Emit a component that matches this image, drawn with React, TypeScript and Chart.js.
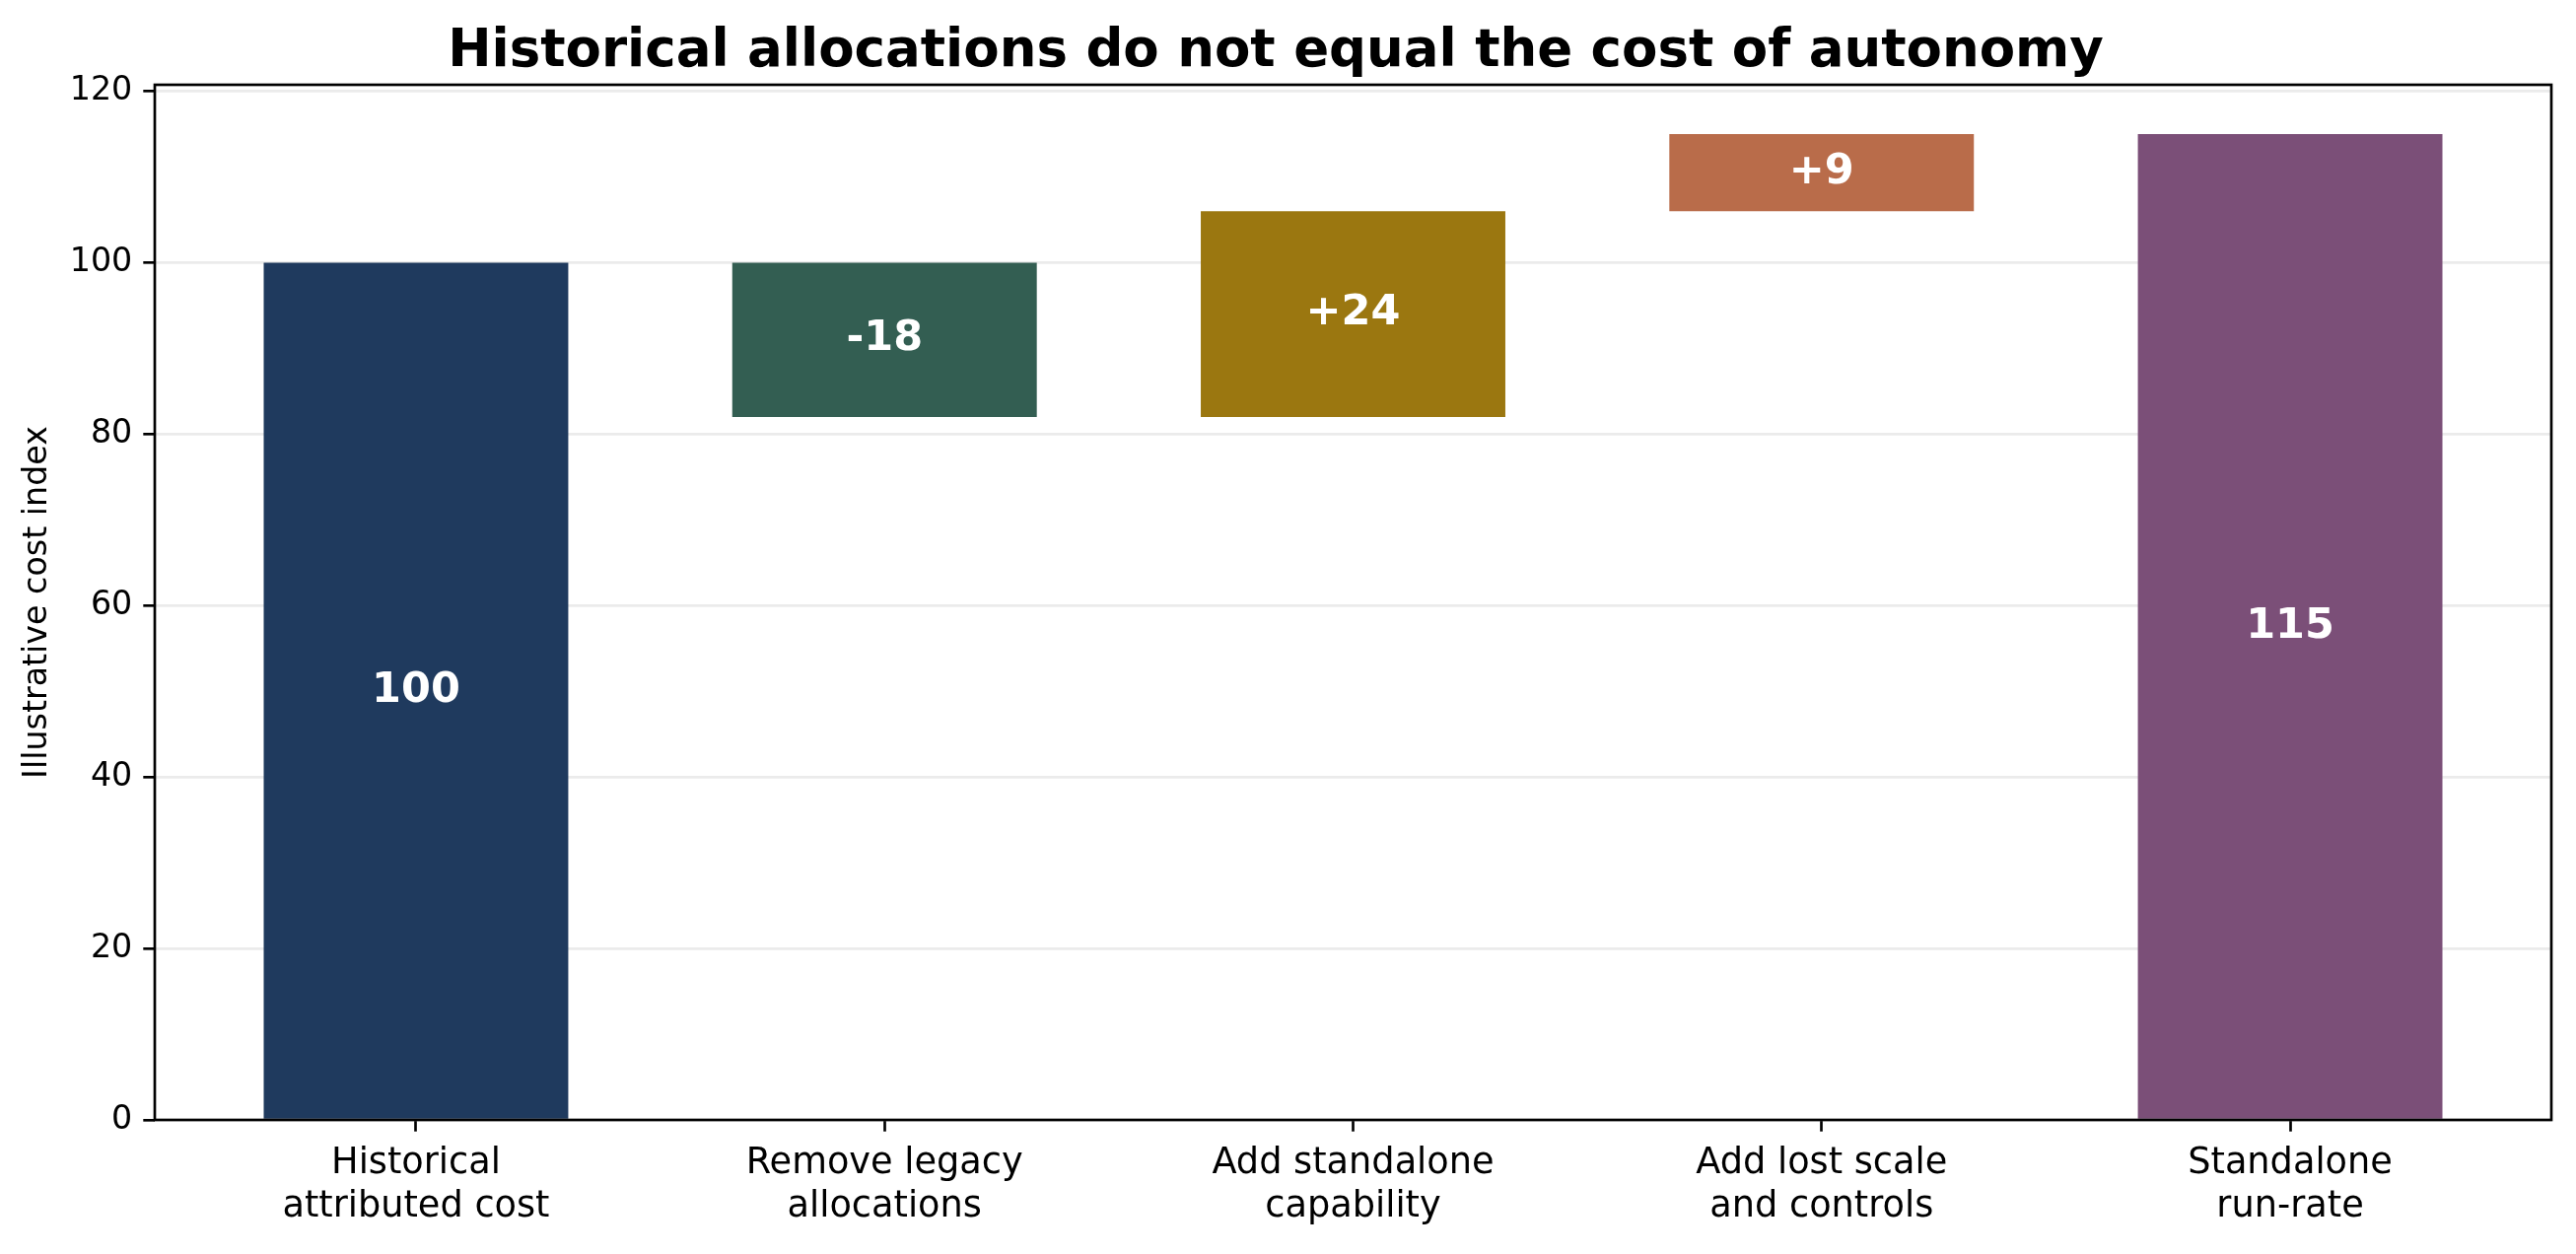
import React, { useEffect, useRef } from 'react';
import { Chart, registerables, ChartConfiguration, Plugin } from 'chart.js';
Chart.register(...registerables);

// waterfall steps
const categories = [
  ['Historical', 'attributed cost'],
  ['Remove legacy', 'allocations'],
  ['Add standalone', 'capability'],
  ['Add lost scale', 'and controls'],
  ['Standalone', 'run-rate'],
];
const barBottoms = [0, 82, 82, 106, 0];
const barTops = [100, 100, 106, 115, 115];
const barLabels = ['100', '-18', '+24', '+9', '115'];
const barColors = ['#1f3a5e', '#335e52', '#9b7710', '#b96c4a', '#7b4f78'];
const yTicks = [0, 20, 40, 60, 80, 100, 120];

const FONT = "'DejaVu Sans', sans-serif";

const framePlugin: Plugin = {
  id: 'frameAndLabels',
  afterDraw(chart) {
    const { ctx, chartArea: a } = chart;
    const meta = chart.getDatasetMeta(0);
    const yScale = chart.scales.y;
    ctx.save();
    // box round the plot, like matplotlib spines
    ctx.strokeStyle = '#000';
    ctx.lineWidth = 2.67;
    ctx.strokeRect(a.left, a.top, a.right - a.left, a.bottom - a.top);
    // value labels in the middle of each bar
    ctx.fillStyle = '#fff';
    ctx.font = `bold 43px ${FONT}`;
    ctx.textAlign = 'center';
    ctx.textBaseline = 'middle';
    meta.data.forEach((bar, i) => {
      const mid = (barBottoms[i] + barTops[i]) / 2;
      ctx.fillText(barLabels[i], bar.x, yScale.getPixelForValue(mid) - 0.5);
    });
    ctx.restore();
  },
};

const App: React.FC = () => {
  const canvasRef = useRef<HTMLCanvasElement>(null);
  const chartRef = useRef<Chart | null>(null);

  useEffect(() => {
    if (!canvasRef.current) return;
    const ctx = canvasRef.current.getContext('2d');
    if (!ctx) return;

    const config: ChartConfiguration = {
      type: 'bar',
      data: {
        datasets: [{
          data: categories.map((_, i) => ({ x: i, y: [barBottoms[i], barTops[i]] })) as any,
          backgroundColor: barColors,
          borderWidth: 0,
          barPercentage: 1,
          categoryPercentage: 0.65,
        }],
      },
      options: {
        responsive: true,
        maintainAspectRatio: false,
        animation: false,
        layout: { padding: { left: 0, right: 25, top: 0, bottom: 0 } },
        plugins: {
          legend: { display: false },
          tooltip: { enabled: false },
          title: {
            display: true,
            text: 'Historical allocations do not equal the cost of autonomy',
            color: '#000',
            font: { family: FONT, size: 53, weight: 'bold', lineHeight: 1 },
            padding: { top: 27, bottom: 6 },
          },
        },
        scales: {
          x: {
            type: 'linear',
            min: -0.5575,
            max: 4.5575,
            offset: false,
            afterBuildTicks: (s: any) => { s.ticks = categories.map((_, i) => ({ value: i })); },
            afterFit: (s: any) => { s.height = 136; },
            grid: {
              display: true,
              offset: false,
              drawOnChartArea: false,
              drawTicks: true,
              tickLength: 11.7,
              tickWidth: 2.67,
              tickColor: '#000',
            },
            border: { display: false },
            ticks: {
              color: '#000',
              padding: 11,
              maxRotation: 0,
              autoSkip: false,
              font: { family: FONT, size: 36.7, lineHeight: 1.2 },
              callback: (v: any) => categories[Number(v)] ?? '',
            },
          },
          y: {
            min: 0,
            max: 120.75,
            z: 1,
            afterBuildTicks: (s: any) => { s.ticks = yTicks.map(v => ({ value: v })); },
            afterFit: (s: any) => { s.width = 157; },
            grid: {
              color: 'rgba(176,176,176,0.25)',
              lineWidth: 2.67,
              tickLength: 11.7,
              tickWidth: 2.67,
              tickColor: '#000',
            },
            border: { display: false },
            ticks: {
              color: '#000',
              padding: 11,
              autoSkip: false,
              font: { family: FONT, size: 33.3 },
            },
            title: {
              display: true,
              text: 'Illustrative cost index',
              color: '#000',
              font: { family: FONT, size: 33.3, lineHeight: 1 },
              padding: { top: 22, bottom: 0 },
            },
          },
        },
      },
      plugins: [framePlugin],
    };

    chartRef.current = new Chart(ctx, config);
    return () => {
      if (chartRef.current) {
        chartRef.current.destroy();
        chartRef.current = null;
      }
    };
  }, []);

  return (
    <div style={{ position: 'fixed', left: 0, top: 0, width: 2613, height: 1272, background: '#fff' }}>
      <canvas ref={canvasRef}></canvas>
    </div>
  );
};

export default App;
